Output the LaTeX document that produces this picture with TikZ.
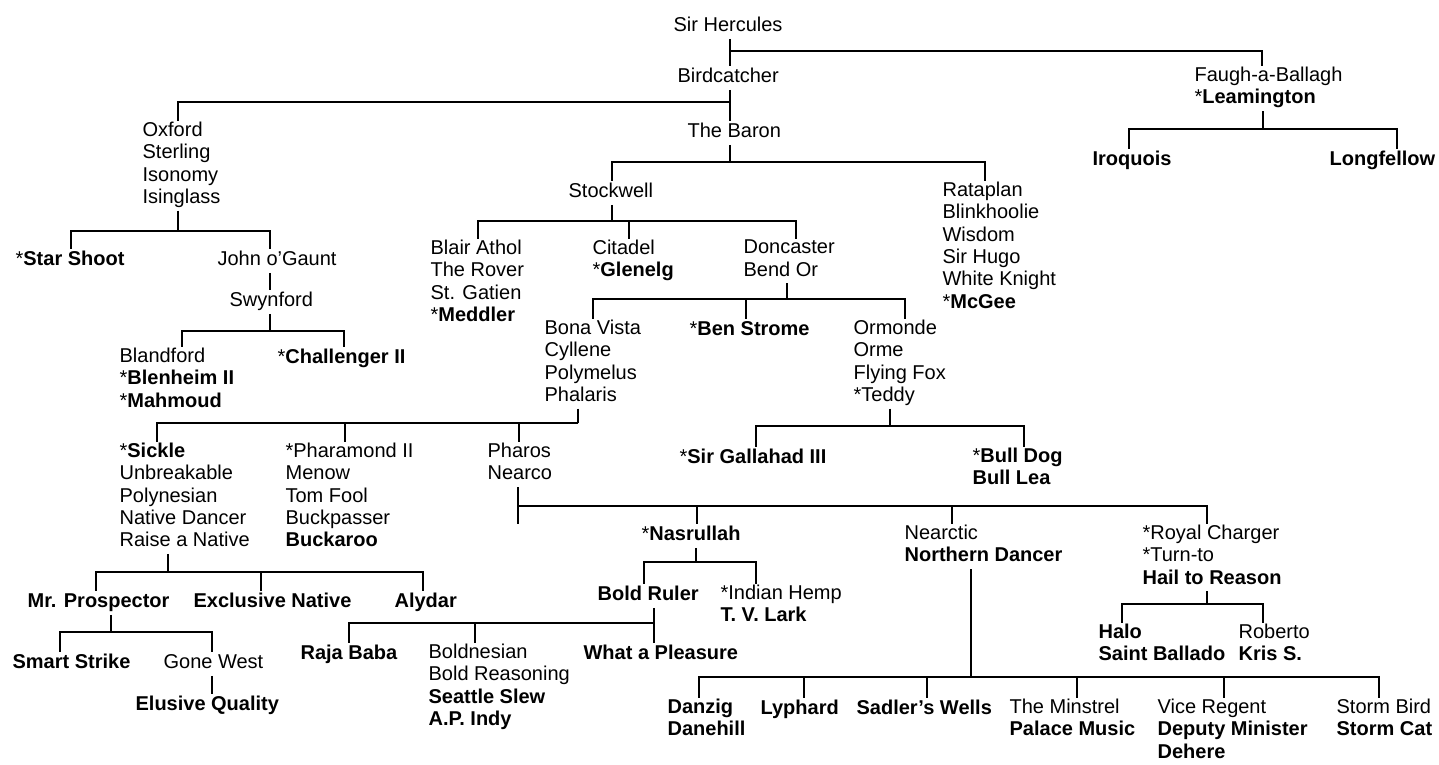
\documentclass[tikz,border=0pt]{standalone}
\usepackage{fontspec}
\setmainfont{Liberation Sans}
\begin{document}
\begin{tikzpicture}[x=1pt, y=-1pt, line width=1.2pt]
        \tikzstyle{horse}=[anchor=north west, align=left, inner sep=0pt, font=\fontsize{20}{22.3}\selectfont, execute at begin node=\strut, execute at end node=\strut]
        \useasboundingbox (0,0) rectangle (1439,764);
        % Level 1
        \node[horse] (sirh) at (673,15.4) {Sir Hercules};
        \node[horse] (birdc) at (677,66.4) {Birdcatcher};
        \node[horse] (faugh) at (1194,66.4) {Faugh-a-Ballagh\\*\textbf{Leamington}};
        \node[horse] (oxford) at (142,121.4) {Oxford\\Sterling\\Isonomy\\Isinglass};
        \node[horse] (baron) at (687,121.4) {The Baron};
        \node[horse] (iroquois) at (1092,149.4) {\textbf{Iroquois}};
        \node[horse] (longf) at (1329,149.4) {\textbf{Longfellow}};
        \node[horse] (stockwell) at (568,181.4) {Stockwell};
        \node[horse] (rataplan) at (942,181.4) {Rataplan\\Blinkhoolie\\Wisdom\\Sir Hugo\\White Knight\\*\textbf{McGee}};
        % Level 2
        \node[horse] (starshoot) at (15,249.4) {*\textbf{Star Shoot}};
        \node[horse] (jog) at (217,249.4) {John o’Gaunt};
        \node[horse] (swynford) at (229,290.4) {Swynford};
        \node[horse] (blair) at (430,239.4) {Blair Athol\\The Rover\\St. Gatien\\*\textbf{Meddler}};
        \node[horse] (citadel) at (592,239.4) {Citadel\\*\textbf{Glenelg}};
        \node[horse] (doncaster) at (743,239.4) {Doncaster\\Bend Or};
        \node[horse] (blandford) at (119,347.4) {Blandford\\*\textbf{Blenheim II}\\*\textbf{Mahmoud}};
        \node[horse] (challenger) at (277,347.4) {*\textbf{Challenger II}};
        \node[horse] (bonavista) at (544,319.4) {Bona Vista\\Cyllene\\Polymelus\\Phalaris};
        \node[horse] (benstrome) at (689,319.4) {*\textbf{Ben Strome}};
        \node[horse] (ormonde) at (853,319.4) {Ormonde\\Orme\\Flying Fox\\*Teddy};
        % Level 3
        \node[horse] (sickle) at (119,442.4) {*\textbf{Sickle}\\Unbreakable\\Polynesian\\Native Dancer\\Raise a Native};
        \node[horse] (pharamond) at (285,442.4) {*Pharamond II\\Menow\\Tom Fool\\Buckpasser\\\textbf{Buckaroo}};
        \node[horse] (pharos) at (487,442.4) {Pharos\\Nearco};
        \node[horse] (gallahad) at (679,447.4) {*\textbf{Sir Gallahad III}};
        \node[horse] (bulldog) at (972,447.4) {*\textbf{Bull Dog}\\\textbf{Bull Lea}};
        \node[horse] (nasrullah) at (641,524.4) {*\textbf{Nasrullah}};
        \node[horse] (nearctic) at (904,524.4) {Nearctic\\\textbf{Northern Dancer}};
        \node[horse] (royal) at (1142,524.4) {*Royal Charger\\*Turn-to\\\textbf{Hail to Reason}};
        % Level 4
        \node[horse] (mrprosp) at (27,591.4) {\textbf{Mr. Prospector}};
        \node[horse] (exclusive) at (193,591.4) {\textbf{Exclusive Native}};
        \node[horse] (alydar) at (394,591.4) {\textbf{Alydar}};
        \node[horse] (boldruler) at (597,584.4) {\textbf{Bold Ruler}};
        \node[horse] (indian) at (720,584.4) {*Indian Hemp\\\textbf{T. V. Lark}};
        \node[horse] (halo) at (1098,623.4) {\textbf{Halo}\\\textbf{Saint Ballado}};
        \node[horse] (roberto) at (1238,623.4) {Roberto\\\textbf{Kris S.}};
        \node[horse] (rajababa) at (300,643.4) {\textbf{Raja Baba}};
        \node[horse] (boldnesian) at (428,643.4) {Boldnesian\\Bold Reasoning\\\textbf{Seattle Slew}\\\textbf{A.P. Indy}};
        \node[horse] (pleasure) at (583,643.4) {\textbf{What a Pleasure}};
        \node[horse] (smartstrike) at (12,652.4) {\textbf{Smart Strike}};
        \node[horse] (gonewest) at (163,652.4) {Gone West};
        \node[horse] (elusive) at (135,694.4) {\textbf{Elusive Quality}};
        \node[horse] (danzig) at (667,698.4) {\textbf{Danzig}\\\textbf{Danehill}};
        \node[horse] (lyphard) at (760,698.4) {\textbf{Lyphard}};
        \node[horse] (sadlers) at (856,698.4) {\textbf{Sadler’s Wells}};
        \node[horse] (minstrel) at (1009,698.4) {The Minstrel\\\textbf{Palace Music}};
        \node[horse] (vice) at (1157,698.4) {Vice Regent\\\textbf{Deputy Minister}\\\textbf{Dehere}};
        \node[horse] (stormbird) at (1336,698.4) {Storm Bird\\\textbf{Storm Cat}};
        % forks
        \coordinate (fk-sirh) at (730,51);
        \coordinate (fk-birdc) at (730,102);
        \coordinate (fk-faugh) at (1263,129);
        \coordinate (fk-oxford) at (178,231);
        \coordinate (fk-swynford) at (270,331);
        \coordinate (fk-baron) at (730,162);
        \coordinate (fk-stockwell) at (612,221);
        \coordinate (fk-doncaster) at (787,299);
        \coordinate (fk-bonavista) at (578,423);
        \coordinate (fk-ormonde) at (890,426);
        \coordinate (fk-pharos) at (518,506);
        \coordinate (fk-sickle) at (168,572);
        \coordinate (fk-nasrullah) at (696,562);
        \coordinate (fk-boldruler) at (654,623);
        \coordinate (fk-mrprosp) at (111,632);
        \coordinate (fk-royal) at (1207,604);
        \coordinate (fk-nearctic) at (971,677);
        % connectors
        \draw (sirh.south -| fk-sirh) -- (birdc.north -| fk-sirh);
        \draw (fk-sirh) -| (faugh.north -| 1262,0);
        \draw (birdc.south -| fk-birdc) -- (baron.north -| fk-birdc);
        \draw (fk-birdc) -| (oxford.north -| 178,0);
        \draw (faugh.south -| fk-faugh) -- (fk-faugh);
        \draw (fk-faugh) -| (iroquois.north -| 1129,0);
        \draw (fk-faugh) -| (longf.north -| 1397,0);
        \draw (oxford.south -| fk-oxford) -- (fk-oxford);
        \draw (fk-oxford) -| (starshoot.north -| 71,0);
        \draw (fk-oxford) -| (jog.north -| 270,0);
        \draw (jog.south -| 270,0) -- (swynford.north -| 270,0);
        \draw (swynford.south -| fk-swynford) -- (fk-swynford);
        \draw (fk-swynford) -| (blandford.north -| 182,0);
        \draw (fk-swynford) -| (challenger.north -| 344,0);
        \draw (baron.south -| fk-baron) -- (fk-baron);
        \draw (fk-baron) -| (stockwell.north -| 612,0);
        \draw (fk-baron) -| (rataplan.north -| 985,0);
        \draw (stockwell.south -| fk-stockwell) -- (fk-stockwell);
        \draw (fk-stockwell) -| (blair.north -| 478,0);
        \draw (fk-stockwell) -| (citadel.north -| 629,0);
        \draw (fk-stockwell) -| (doncaster.north -| 796,0);
        \draw (doncaster.south -| fk-doncaster) -- (fk-doncaster);
        \draw (fk-doncaster) -| (bonavista.north -| 593,0);
        \draw (fk-doncaster) -| (benstrome.north -| 746,0);
        \draw (fk-doncaster) -| (ormonde.north -| 905,0);
        \draw (bonavista.south -| fk-bonavista) -- (fk-bonavista);
        \draw (fk-bonavista) -| (sickle.north -| 157,0);
        \draw (fk-bonavista) -| (pharamond.north -| 345,0);
        \draw (fk-bonavista) -| (pharos.north -| 519,0);
        \draw (ormonde.south -| fk-ormonde) -- (fk-ormonde);
        \draw (fk-ormonde) -| (gallahad.north -| 756,0);
        \draw (fk-ormonde) -| (bulldog.north -| 1024,0);
        \draw (pharos.south -| fk-pharos) -- (nasrullah.north -| fk-pharos);
        \draw (fk-pharos) -| (nasrullah.north -| 697,0);
        \draw (fk-pharos) -| (nearctic.north -| 952,0);
        \draw (fk-pharos) -| (royal.north -| 1207,0);
        \draw (sickle.south -| fk-sickle) -- (fk-sickle);
        \draw (fk-sickle) -| (mrprosp.north -| 96,0);
        \draw (fk-sickle) -| (exclusive.north -| 261,0);
        \draw (fk-sickle) -| (alydar.north -| 423,0);
        \draw (nasrullah.south -| fk-nasrullah) -- (fk-nasrullah);
        \draw (fk-nasrullah) -| (boldruler.north -| 644,0);
        \draw (fk-nasrullah) -| (indian.north -| 756,0);
        \draw (boldruler.south -| fk-boldruler) -- (pleasure.north -| fk-boldruler);
        \draw (fk-boldruler) -| (rajababa.north -| 349,0);
        \draw (fk-boldruler) -| (boldnesian.north -| 475,0);
        \draw (mrprosp.south -| fk-mrprosp) -- (fk-mrprosp);
        \draw (fk-mrprosp) -| (smartstrike.north -| 60,0);
        \draw (fk-mrprosp) -| (gonewest.north -| 212,0);
        \draw (gonewest.south -| 212,0) -- (elusive.north -| 212,0);
        \draw (royal.south -| fk-royal) -- (fk-royal);
        \draw (fk-royal) -| (halo.north -| 1122,0);
        \draw (fk-royal) -| (roberto.north -| 1263,0);
        \draw (nearctic.south -| fk-nearctic) -- (fk-nearctic);
        \draw (fk-nearctic) -| (danzig.north -| 699,0);
        \draw (fk-nearctic) -| (lyphard.north -| 804,0);
        \draw (fk-nearctic) -| (sadlers.north -| 927,0);
        \draw (fk-nearctic) -| (minstrel.north -| 1077,0);
        \draw (fk-nearctic) -| (vice.north -| 1224,0);
        \draw (fk-nearctic) -| (stormbird.north -| 1379,0);
    \end{tikzpicture}
\end{document}
